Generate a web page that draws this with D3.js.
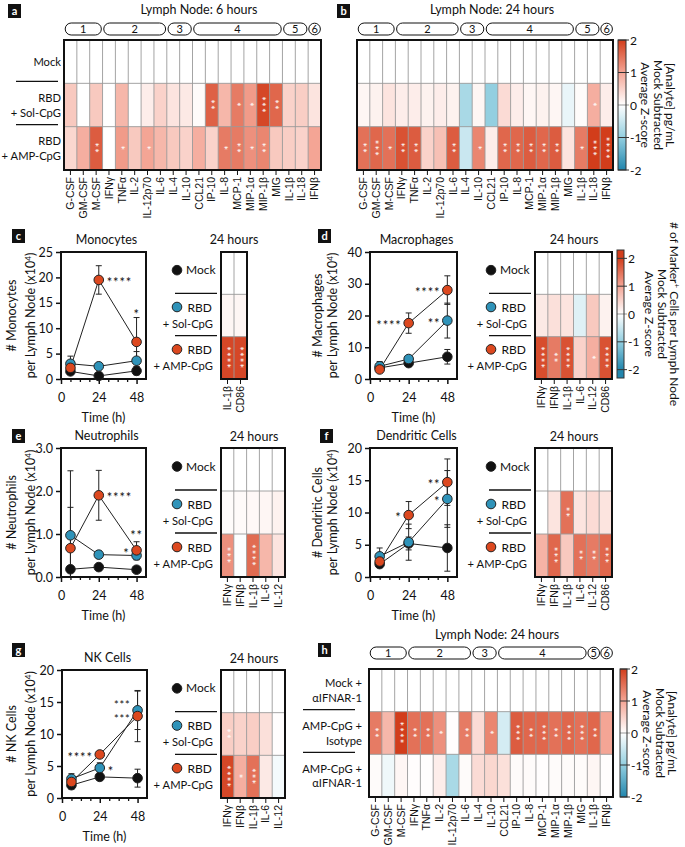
<!DOCTYPE html>
<html><head><meta charset="utf-8">
<script src="https://cdn.jsdelivr.net/npm/d3@7"></script>
<style>body{margin:0;background:#fff}svg{display:block}</style>
</head><body>
<svg id="chart" width="685" height="847"></svg>
<script>
// ================= DATA =================
const analytes = ["G-CSF","GM-CSF","M-CSF","IFNγ","TNFα","IL-2","IL-12p70","IL-6","IL-4","IL-10","CCL21","IP-10","IL-8","MCP-1","MIP-1α","MIP-1β","MIG","IL-1β","IL-18","IFNβ"];
const analytesH = ["G-CSF","GM-CSF","M-CSF","IFNγ","TNFα","IL-2","IL-12p70","IL-6","IL-4","IL-10","CCL21","IP-10","IL-8","MCP-1","MIP-1α","MIP-1β","MIG","IL-1β","IFNβ"];
const groupLabels = ["1","2","3","4","5","6"];
const groupSizesAB = [3,5,2,7,2,1];
const groupSizesH = [3,5,2,7,1,1];
const rowLabelsAB = [["Mock"],["RBD","+ Sol-CpG"],["RBD","+ AMP-CpG"]];
const rowLabelsH = [["Mock +","αIFNAR-1"],["AMP-CpG +","Isotype"],["AMP-CpG +","αIFNAR-1"]];

// Panel a: 6 h
const a6Mock = [0,0,0,0,0,0,0,0,0,0,0,0,0,0,0,0,0,0,0,0];
const a6Sol  = [0.6,0,0.6,0,0.8,0,0.2,0.5,0.3,0.25,0.05,1.65,0.8,1.4,1.1,1.9,1.6,0.5,0.55,0.3];
const a6Amp  = [0.45,0.9,1.7,0,1.1,0.6,1.0,0.8,0.6,0.5,0.9,0.5,1.4,1.4,1.2,1.3,0.6,0.55,0.5,1.0];
const a6SolSig = [0,0,0,0,0,0,0,0,0,0,0,2,0,1,1,3,2,0,0,0];
const a6AmpSig = [0,0,2,0,1,0,1,0,0,0,0,0,1,2,1,2,0,0,0,0];
// Panel b: 24 h
const b24Mock = [0,0,0,0,0,0,0,0,0,0,0,0,0,0,0,0,0,0,0,0];
const b24Sol  = [0.1,0.15,0.3,0.2,0.2,0.15,0.2,0.15,-0.8,0.1,-1.0,0.4,0.2,0.1,0.15,0.1,-0.2,0.05,0.9,0.2];
const b24Amp  = [1.5,1.6,1.5,1.8,1.7,0.5,0.7,1.7,-0.5,1.3,0.2,1.6,1.6,1.7,1.6,1.7,0.3,1.4,2.0,2.2];
const b24SolSig = [0,0,0,0,0,0,0,0,0,0,0,0,0,0,0,0,0,0,1,0];
const b24AmpSig = [2,3,1,2,2,0,0,2,0,1,0,2,2,2,2,2,0,1,3,4];
// Panel h
const hMock = [0,0,0,0,0,0,0,0,0,0,0,0,0,0,0,0,0,0,0];
const hIso  = [1.4,0.8,2.0,1.5,1.5,1.2,0.02,1.4,0.4,1.3,-0.4,1.7,1.6,1.6,1.5,1.6,1.5,1.6,1.0];
const hAnti = [0.05,-0.15,0.1,0.02,0.02,0.2,-0.8,0.05,0.4,0.45,0.35,0.05,0.05,0.02,0.05,0.05,0.05,0.1,0.02];
const hIsoSig = [2,0,4,2,2,1,0,2,0,1,0,3,2,3,2,3,3,2,0];

// Cell panels
const timePoints = [6,24,48];
const timeTicks = [0,24,48];
const timeMinor = [6,12,18,30,36,42];

const monoMock = [1.5,0.6,1.6], monoMockErr = [0.6,0.3,0.8];
const monoSol  = [3.0,2.5,3.6], monoSolErr  = [1.5,0.3,1.8];
const monoAmp  = [2.2,19.5,7.3], monoAmpErr = [0.8,2.8,4.8];
const monoYTicks = [0,5,10,15,20,25];
const cMarkers = ["IL-1β","CD86"];
const cSol = [0.1,0.1], cAmp = [1.9,1.9], cAmpSig = [4,4];

const macMock = [3.5,5.0,7.0], macMockErr = [1.0,1.0,2.3];
const macSol  = [4.0,6.3,18.4], macSolErr  = [1.5,1.0,5.5];
const macAmp  = [3.0,17.6,28.0], macAmpErr = [0.8,3.2,4.5];
const macYTicks = [0,10,20,30,40];
const dMarkers = ["IFNγ","IFNβ","IL-1β","IL-6","IL-12","CD86"];
const dSol = [0.25,0.35,0.3,-0.3,0.6,0.15], dAmp = [1.85,1.4,1.8,0.5,0.9,1.8], dAmpSig = [4,2,4,0,1,4];

const neuMock = [0.18,0.23,0.17], neuMockErr = [0.05,0.05,0.05];
const neuSol  = [0.97,0.52,0.5], neuSolErr  = [1.5,0.08,0.1];
const neuAmp  = [0.67,1.9,0.62], neuAmpErr = [0.95,0.58,0.2];
const neuYTicks = [0,1,2,3];
const eMarkers = ["IFNγ","IFNβ","IL-1β","IL-6","IL-12"];
const eSol = [0.05,0.06,0.08,0.1,0.15], eAmp = [1.2,-0.03,1.55,0.8,0.3], eAmpSig = [3,0,4,0,0];

const dcMock = [2.0,5.2,4.5], dcMockErr = [0.5,1.0,3.6];
const dcSol  = [3.2,5.4,12.1], dcSolErr  = [1.3,2.8,4.4];
const dcAmp  = [2.4,9.6,14.7], dcAmpErr  = [0.5,2.1,3.6];
const dcYTicks = [0,5,10,15,20];
const fMarkers = ["IFNγ","IFNβ","IL-1β","IL-6","IL-12","CD86"];
const fSol = [0,0.3,1.5,0.3,0.4,0.3], fSolSig = [0,0,2,0,0,0];
const fAmp = [0.85,1.6,0.6,1.5,1.4,1.6], fAmpSig = [0,3,0,2,2,3];

const nkMock = [2.0,3.3,3.1], nkMockErr = [0.6,0.5,1.4];
const nkSol  = [3.0,4.7,13.7], nkSolErr  = [0.8,0.8,3.0];
const nkAmp  = [2.5,6.8,12.8], nkAmpErr  = [0.5,0.3,4.0];
const nkYTicks = [0,5,10,15,20];
const gMarkers = ["IFNγ","IFNβ","IL-1β","IL-6","IL-12"];
const gSol = [0.55,0.5,0.55,0.35,0.02], gSolSig = [2,0,0,0,0];
const gAmp = [1.9,0.9,1.5,0.25,-0.1], gAmpSig = [4,1,3,0,0];

// significance annotations (time, value, stars, side)
const monoStars = [{t:24,v:19.5,s:"****",side:"right"},{t:48,v:13.2,s:"*",side:"mid"}];
const macStars  = [{t:24,v:17.6,s:"****",side:"left"},{t:48,v:28.0,s:"****",side:"left"},{t:48,v:18.4,s:"**",side:"left"}];
const neuStars  = [{t:24,v:1.9,s:"****",side:"right"},{t:48,v:1.02,s:"**",side:"mid"},{t:48,v:0.6,s:"*",side:"left"}];
const dcStars   = [{t:24,v:9.6,s:"*",side:"left"},{t:48,v:14.7,s:"**",side:"left"},{t:48,v:12.1,s:"*",side:"left"}];
const nkStars   = [{t:24,v:6.8,s:"****",side:"left"},{t:24,v:4.5,s:"*",side:"right"},{t:48,v:14.8,s:"***",side:"left",fs:11},{t:48,v:12.7,s:"***",side:"left",fs:11}];

const cbTicks = [2,1,0,-1,-2];

// ================= DRAWING =================
const FONT = 'Lato, "Open Sans", sans-serif';
const LFONT = '"Liberation Sans", Arial, sans-serif';
const INK = "#111";
const LAB = 11.2;
const cMock = "#111111", cSolC = "#2f93b9", cAmpC = "#dc481f";
const svg = d3.select("#chart").attr("font-family", FONT).attr("font-size", 12).attr("fill", INK);
const color = d3.scaleLinear().domain([-2,-1,0,1,2])
  .range(["#2286ad","#93cfe0","#ffffff","#f4a595","#d23d1b"]).clamp(true);

function labelBox(x, y, letter){
  svg.append("rect").attr("x",x).attr("y",y).attr("width",13).attr("height",14).attr("fill",INK);
  svg.append("text").attr("x",x+6.5).attr("y",y+11).attr("text-anchor","middle")
    .attr("fill","#fff").attr("font-weight","bold").attr("font-size",11).text(letter);
}
function title(x, y, t){
  svg.append("text").attr("x",x).attr("y",y).attr("text-anchor","middle").attr("font-size",12.5).text(t);
}

function heatmap(cfg){
  const {x0,y0,w,h,cols,vals,sig} = cfg;
  const g = svg.append("g");
  const x = d3.scaleBand().domain(cols).range([x0,x0+w]);
  const y = d3.scaleBand().domain(d3.range(vals.length)).range([y0,y0+h]);
  vals.forEach((row,r)=>{
    g.append("g").selectAll("rect").data(row).enter().append("rect")
      .attr("x",(d,i)=>x(cols[i])).attr("y",y(r))
      .attr("width",x.bandwidth()+0.4).attr("height",y.bandwidth()+0.4)
      .attr("fill",d=>color(d));
  });
  cols.slice(1).forEach(c=>g.append("line").attr("x1",x(c)).attr("x2",x(c))
    .attr("y1",y0).attr("y2",y0+h).attr("stroke","#9a9a9a").attr("stroke-width",0.9));
  d3.range(1,vals.length).forEach(r=>g.append("line").attr("x1",x0).attr("x2",x0+w)
    .attr("y1",y(r)).attr("y2",y(r)).attr("stroke","#9a9a9a").attr("stroke-width",0.9));
  sig.forEach((row,r)=>{ if(!row) return; row.forEach((n,i)=>{
    if(!n) return;
    const cx = x(cols[i])+x.bandwidth()/2, cy = y(r)+y.bandwidth()/2;
    g.append("text").attr("transform",`translate(${cx},${cy}) rotate(90)`)
      .attr("text-anchor","middle").attr("dy","0.52em").attr("fill","#fff")
      .attr("font-size",11).attr("letter-spacing",1.1).text("*".repeat(n));
  });});
  g.append("rect").attr("x",x0).attr("y",y0).attr("width",w).attr("height",h)
    .attr("fill","none").attr("stroke",INK).attr("stroke-width",2);
  const ax = g.append("g").attr("transform",`translate(0,${y0+h+1})`)
    .call(d3.axisBottom(x).tickSize(4).tickSizeOuter(0));
  ax.select(".domain").remove();
  ax.selectAll("line").attr("stroke",INK).attr("stroke-width",1);
  ax.selectAll("text").attr("font-family",LFONT).attr("font-size",10.5).attr("fill",INK)
    .attr("transform","rotate(-90)").attr("text-anchor","end")
    .attr("x",-6).attr("y",0).attr("dy","0.35em");
  return {x,y};
}

function groupBubbles(x, cols, sizes, yc){
  let i=0;
  sizes.forEach((n,k)=>{
    const xa = x(cols[i]), xb = x(cols[i+n-1]) + x.bandwidth();
    if(n===1){
      svg.append("circle").attr("cx",(xa+xb)/2).attr("cy",yc).attr("r",5.8)
        .attr("fill","none").attr("stroke",INK).attr("stroke-width",1);
    } else {
      svg.append("rect").attr("x",xa+1.2).attr("y",yc-6).attr("width",xb-xa-2.4).attr("height",12)
        .attr("rx",6).attr("fill","none").attr("stroke",INK).attr("stroke-width",1);
    }
    svg.append("text").attr("x",(xa+xb)/2).attr("y",yc+4).attr("text-anchor","middle")
      .attr("font-size",11).text(groupLabels[k]);
    i+=n;
  });
}

function rowLabels(labels, x, y0, h, lineX0, lineX1){
  const rh = h/labels.length;
  labels.forEach((lines,r)=>{
    const cy = y0 + rh*r + rh/2;
    lines.forEach((t,j)=>{
      const off = lines.length===1 ? 4 : (j===0 ? -3 : 11.5);
      svg.append("text").attr("x",x).attr("y",cy+off).attr("text-anchor","end").attr("font-size",LAB).text(t);
    });
    if(r>0) svg.append("line").attr("x1",lineX0).attr("x2",lineX1)
      .attr("y1",y0+rh*r-2).attr("y2",y0+rh*r-2).attr("stroke",INK).attr("stroke-width",1.3);
  });
}

let gradId=0;
function colorbar(cfg){
  const {x0,y0,w,h,vmin,vmax,labels,labelX,labelGap} = cfg;
  const id = "grad"+(gradId++);
  const y = d3.scaleLinear().domain([vmin,vmax]).range([y0+h,y0]);
  const grad = svg.append("defs").append("linearGradient").attr("id",id)
    .attr("x1",0).attr("y1",1).attr("x2",0).attr("y2",0);
  d3.range(0,41).forEach(i=>{
    const v = vmin + (vmax-vmin)*i/40;
    grad.append("stop").attr("offset",(i/40*100)+"%").attr("stop-color",color(v));
  });
  svg.append("rect").attr("x",x0).attr("y",y0).attr("width",w).attr("height",h)
    .attr("fill",`url(#${id})`).attr("stroke","#333").attr("stroke-width",1);
  cbTicks.forEach(t=>{
    svg.append("line").attr("x1",x0).attr("x2",x0+w+3).attr("y1",y(t)).attr("y2",y(t))
      .attr("stroke","#333").attr("stroke-width",t===0?0.5:1);
    svg.append("text").attr("x",x0+w+4).attr("y",y(t)+4.5).attr("font-size",12)
      .text(t<0? "-"+Math.abs(t) : t);
  });
  const yc = y0+h/2;
  labels.forEach((t,i)=>{
    const tx = svg.append("text").attr("transform",`translate(${labelX - i*labelGap},${yc}) rotate(90)`)
      .attr("text-anchor","middle").attr("font-size",12);
    if(Array.isArray(t)){
      tx.append("tspan").text(t[0]);
      tx.append("tspan").attr("dy",-4).attr("font-size",8).text(t[1]);
      tx.append("tspan").attr("dy",4).text(t[2]);
    } else tx.text(t);
  });
}

function linePlot(cfg){
  const {x0,x1,y0,y1,ymax,yticks,series,stars,ttl,ylab,labX} = cfg;
  const g = svg.append("g");
  const x = d3.scaleLinear().domain([0,54]).range([x0,x1]);
  const y = d3.scaleLinear().domain([0,ymax]).range([y1,y0]);
  const ya = g.append("g").attr("transform",`translate(${x0},0)`)
    .call(d3.axisLeft(y).tickValues(yticks).tickSize(5).tickPadding(3));
  ya.select(".domain").remove();
  ya.selectAll("line").attr("stroke",INK).attr("stroke-width",1.5);
  ya.selectAll("text").attr("font-family",FONT).attr("font-size",12.5).attr("fill",INK);
  const xa = g.append("g").attr("transform",`translate(0,${y1})`)
    .call(d3.axisBottom(x).tickValues(timeTicks).tickSize(5).tickPadding(9));
  xa.select(".domain").remove();
  xa.selectAll("line").attr("stroke",INK).attr("stroke-width",1.5);
  xa.selectAll("text").attr("font-family",FONT).attr("font-size",12.5).attr("fill",INK);
  const xm = g.append("g").attr("transform",`translate(0,${y1})`)
    .call(d3.axisBottom(x).tickValues(timeMinor).tickSize(3).tickFormat(""));
  xm.select(".domain").remove();
  xm.selectAll("line").attr("stroke",INK).attr("stroke-width",1.3);
  g.append("rect").attr("x",x0).attr("y",y0).attr("width",x1-x0).attr("height",y1-y0)
    .attr("fill","none").attr("stroke",INK).attr("stroke-width",2);
  const line = d3.line().x((d,i)=>x(timePoints[i])).y(d=>y(d));
  series.forEach(s=>{
    g.append("path").datum(s.v).attr("d",line).attr("fill","none").attr("stroke","#222").attr("stroke-width",1);
  });
  series.forEach(s=>{
    s.v.forEach((v,i)=>{
      const lo = Math.max(0, v - s.e[i]), hi = Math.min(ymax, v + s.e[i]);
      const cx = x(timePoints[i]);
      g.append("line").attr("x1",cx).attr("x2",cx).attr("y1",y(lo)).attr("y2",y(hi)).attr("stroke","#222").attr("stroke-width",1);
      [hi, lo].forEach(b=>{ if(b>0) g.append("line").attr("x1",cx-3).attr("x2",cx+3).attr("y1",y(b)).attr("y2",y(b)).attr("stroke","#222").attr("stroke-width",1); });
    });
  });
  series.forEach(s=>{
    g.append("g").selectAll("circle").data(s.v).enter().append("circle")
      .attr("cx",(d,i)=>x(timePoints[i])).attr("cy",d=>y(d)).attr("r",4.8)
      .attr("fill",s.c).attr("stroke","#222").attr("stroke-width",1);
  });
  stars.forEach(st=>{
    const cx = x(st.t);
    const anchor = st.side==="right" ? "start" : st.side==="left" ? "end" : "middle";
    const dx = st.side==="right" ? 8 : st.side==="left" ? -7 : 0;
    g.append("text").attr("x",cx+dx).attr("y",y(st.v)).attr("dy","0.55em")
      .attr("text-anchor",anchor).attr("font-size",st.fs||13).attr("letter-spacing",0.8).text(st.s);
  });
  title((x0+x1)/2+3, y0-8, ttl);
  g.append("text").attr("x",(x0+x1)/2).attr("y",y1+43).attr("text-anchor","middle").attr("font-size",12.5).text("Time (h)");
  const yc = (y0+y1)/2;
  g.append("text").attr("transform",`translate(${labX[0]},${yc}) rotate(-90)`).attr("text-anchor","middle").attr("font-size",12.5).text(ylab);
  const t2 = g.append("text").attr("transform",`translate(${labX[1]},${yc}) rotate(-90)`).attr("text-anchor","middle").attr("font-size",12.5);
  t2.append("tspan").text("per Lymph Node (x10");
  t2.append("tspan").attr("dy",-4).attr("font-size",8).text("4");
  t2.append("tspan").attr("dy",4).text(")");
}

function legend(hx0, y0, h){
  const rh = h/3;
  const c1 = y0 + rh/2, c2 = y0 + rh*1.5, c3 = y0 + rh*2.5;
  svg.append("circle").attr("cx",hx0-44).attr("cy",c1-3).attr("r",4.8).attr("fill",cMock).attr("stroke","#222");
  svg.append("text").attr("x",hx0-35).attr("y",c1+1).attr("font-size",12).text("Mock");
  [[c2,cSolC,"+ Sol-CpG"],[c3,cAmpC,"+ AMP-CpG"]].forEach(([c,col,t])=>{
    svg.append("circle").attr("cx",hx0-44).attr("cy",c-8.5).attr("r",4.8).attr("fill",col).attr("stroke","#222");
    svg.append("text").attr("x",hx0-9).attr("y",c-4).attr("text-anchor","end").attr("font-size",12).text("RBD");
    svg.append("text").attr("x",hx0-8).attr("y",c+12).attr("text-anchor","end").attr("font-size",LAB).text(t);
  });
  [y0+rh, y0+2*rh].forEach(b=>svg.append("line").attr("x1",hx0-46).attr("x2",hx0-4)
    .attr("y1",b-1).attr("y2",b-1).attr("stroke",INK).attr("stroke-width",1.3));
}

// ---------- Panel a ----------
labelBox(8,4,"a");
title(199,14,"Lymph Node: 6 hours");
const ha = heatmap({x0:64,y0:40,w:257,h:130,cols:analytes,vals:[a6Mock,a6Sol,a6Amp],sig:[null,a6SolSig,a6AmpSig]});
groupBubbles(ha.x, analytes, groupSizesAB, 29);
rowLabels(rowLabelsAB, 61, 40, 130, 16, 58);

// ---------- Panel b ----------
labelBox(337,4,"b");
title(492,14,"Lymph Node: 24 hours");
const hb = heatmap({x0:357,y0:40,w:256,h:130,cols:analytes,vals:[b24Mock,b24Sol,b24Amp],sig:[null,b24SolSig,b24AmpSig]});
groupBubbles(hb.x, analytes, groupSizesAB, 29);
colorbar({x0:618,y0:40,w:8,h:130,vmin:-2,vmax:2,labels:["[Analyte] pg/mL","Mock Subtracted","Average Z-score"],labelX:666,labelGap:12.5});

// ---------- Panel c ----------
labelBox(12,229,"c");
linePlot({x0:61,x1:146,y0:252,y1:379,ymax:25,yticks:monoYTicks,
  series:[{v:monoMock,e:monoMockErr,c:cMock},{v:monoSol,e:monoSolErr,c:cSolC},{v:monoAmp,e:monoAmpErr,c:cAmpC}],
  stars:monoStars, ttl:"Monocytes", ylab:"# Monocytes", labX:[16,35]});
title(234,244,"24 hours");
heatmap({x0:221,y0:252,w:26,h:127,cols:cMarkers,vals:[[0,0],cSol,cAmp],sig:[null,null,cAmpSig]});
legend(221,252,127);

// ---------- Panel d ----------
labelBox(318,229,"d");
linePlot({x0:370,x1:457,y0:252,y1:379,ymax:40,yticks:macYTicks,
  series:[{v:macMock,e:macMockErr,c:cMock},{v:macSol,e:macSolErr,c:cSolC},{v:macAmp,e:macAmpErr,c:cAmpC}],
  stars:macStars, ttl:"Macrophages", ylab:"# Macrophages", labX:[322,337]});
title(574,244,"24 hours");
heatmap({x0:535,y0:252,w:77,h:127,cols:dMarkers,vals:[[0,0,0,0,0,0],dSol,dAmp],sig:[null,null,dAmpSig]});
legend(535,252,127);
colorbar({x0:617,y0:250,w:7,h:128,vmin:-2.3,vmax:2.3,labels:[["# of Marker","+"," Cells per Lymph Node"],"Mock Subtracted","Average Z-score"],labelX:670,labelGap:12.5});

// ---------- Panel e ----------
labelBox(12,429,"e");
linePlot({x0:61,x1:146,y0:448,y1:577,ymax:3,yticks:neuYTicks,
  series:[{v:neuMock,e:neuMockErr,c:cMock},{v:neuSol,e:neuSolErr,c:cSolC},{v:neuAmp,e:neuAmpErr,c:cAmpC}],
  stars:neuStars, ttl:"Neutrophils", ylab:"# Neutrophils", labX:[16,35]});
title(254,441,"24 hours");
heatmap({x0:221,y0:448,w:64,h:129,cols:eMarkers,vals:[[0,0,0,0,0],eSol,eAmp],sig:[null,null,eAmpSig]});
legend(221,448,129);

// ---------- Panel f ----------
labelBox(320,429,"f");
linePlot({x0:370,x1:457,y0:448,y1:577,ymax:20,yticks:dcYTicks,
  series:[{v:dcMock,e:dcMockErr,c:cMock},{v:dcSol,e:dcSolErr,c:cSolC},{v:dcAmp,e:dcAmpErr,c:cAmpC}],
  stars:dcStars, ttl:"Dendritic Cells", ylab:"# Dendritic Cells", labX:[322,337]});
title(574,441,"24 hours");
heatmap({x0:535,y0:448,w:77,h:129,cols:fMarkers,vals:[[0,0,0,0,0,0],fSol,fAmp],sig:[null,fSolSig,fAmpSig]});
legend(535,448,129);

// ---------- Panel g ----------
labelBox(12,643,"g");
linePlot({x0:62,x1:147,y0:670,y1:798,ymax:20,yticks:nkYTicks,
  series:[{v:nkMock,e:nkMockErr,c:cMock},{v:nkSol,e:nkSolErr,c:cSolC},{v:nkAmp,e:nkAmpErr,c:cAmpC}],
  stars:nkStars, ttl:"NK Cells", ylab:"# NK Cells", labX:[16,35]});
title(254,663,"24 hours");
heatmap({x0:221,y0:670,w:64,h:128,cols:gMarkers,vals:[[0,0,0,0,0],gSol,gAmp],sig:[null,gSolSig,gAmpSig]});
legend(221,670,128);

// ---------- Panel h ----------
labelBox(318,643,"h");
title(497,639,"Lymph Node: 24 hours");
const hh = heatmap({x0:369,y0:669,w:244,h:128,cols:analytesH,vals:[hMock,hIso,hAnti],sig:[null,hIsoSig,null]});
groupBubbles(hh.x, analytesH, groupSizesH, 653);
rowLabels(rowLabelsH, 362, 669, 128, 303, 355);
colorbar({x0:620,y0:669,w:7,h:128,vmin:-2,vmax:2,labels:["[Analyte] pg/mL","Mock Subtracted","Average Z-score"],labelX:668,labelGap:12.5});
</script>
</body></html>
